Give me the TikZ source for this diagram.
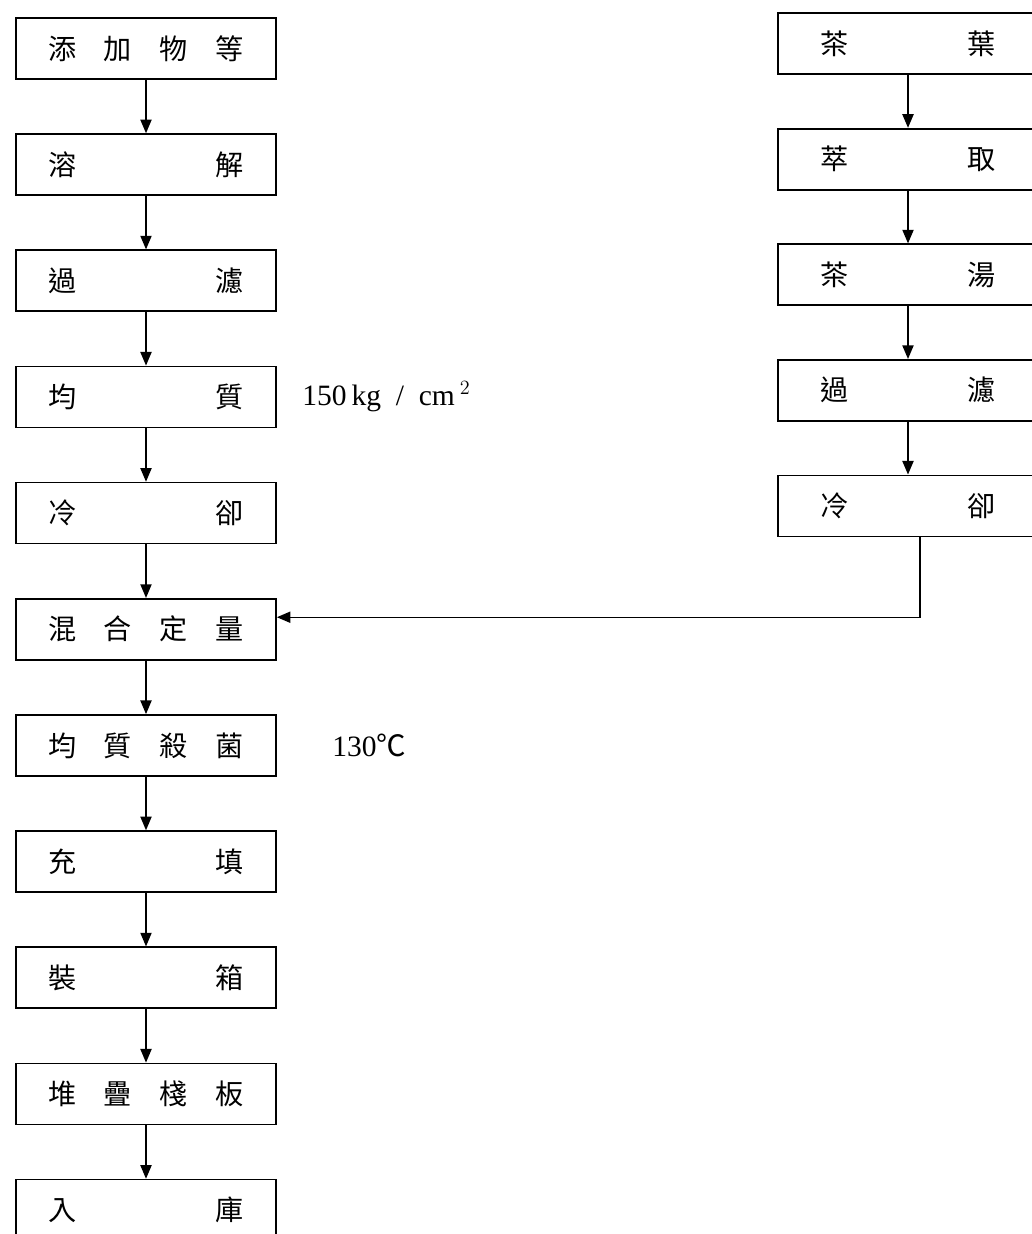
\documentclass[tikz,border=0pt]{standalone}
\usepackage{fontspec}
\setmainfont{Liberation Serif}
\newfontfamily\cjk{Noto Sans CJK TC}
\usetikzlibrary{arrows.meta,positioning}
\tikzset{
stepbox/.style={draw,line width=1.2pt,minimum width=6.5cm,minimum height=1.525cm,text width=4.9cm,font=\cjk\fontsize{20}{24}\selectfont},
rstepbox/.style={stepbox,text width=4.4cm},
note/.style={inner sep=0pt,font=\fontsize{21}{24}\selectfont},
arrow/.style={-{Triangle[length=3.4mm,width=2.8mm]},line width=1pt}
}
\begin{document}
\begin{tikzpicture}[node distance=1.337cm and 0.63cm]
\useasboundingbox (0,0) rectangle (25.8,-30.85);
% left column
\node[stepbox] (l1) at (3.65,-1.21) {添\hfill 加\hfill 物\hfill 等};
\node[stepbox,below=of l1] (l2) {溶\hfill 解};
\node[stepbox,below=of l2] (l3) {過\hfill 濾};
\node[stepbox,below=of l3] (l4) {均\hfill 質};
\node[stepbox,below=of l4] (l5) {冷\hfill 卻};
\node[stepbox,below=of l5] (l6) {混\hfill 合\hfill 定\hfill 量};
\node[stepbox,below=of l6] (l7) {均\hfill 質\hfill 殺\hfill 菌};
\node[stepbox,below=of l7] (l8) {充\hfill 填};
\node[stepbox,below=of l8] (l9) {裝\hfill 箱};
\node[stepbox,below=of l9] (l10) {堆\hfill 疊\hfill 棧\hfill 板};
\node[stepbox,below=of l10] (l11) {入\hfill 庫};
% right column
\node[rstepbox] (r1) at (22.7,-1.09) {茶\hfill 葉};
\node[rstepbox,below=1.322cm of r1] (r2) {萃\hfill 取};
\node[rstepbox,below=1.322cm of r2] (r3) {茶\hfill 湯};
\node[rstepbox,below=1.322cm of r3] (r4) {過\hfill 濾};
\node[rstepbox,below=1.322cm of r4] (r5) {冷\hfill 卻};
% conditions
\node[note,right=of l4] (p) {150\,kg \ / \ cm\,$^{2}$};
\node[note,right=1.38cm of l7] (t) {130{\cjk ℃}};

\foreach \a/\b in {l1/l2,l2/l3,l3/l4,l4/l5,l5/l6,l6/l7,l7/l8,l8/l9,l9/l10,l10/l11,r1/r2,r2/r3,r3/r4,r4/r5}
  \draw[arrow] (\a) -- (\b);
\draw[arrow] ([xshift=3mm]r5.south) |- ([yshift=3mm]l6.east);
\end{tikzpicture}
\end{document}
